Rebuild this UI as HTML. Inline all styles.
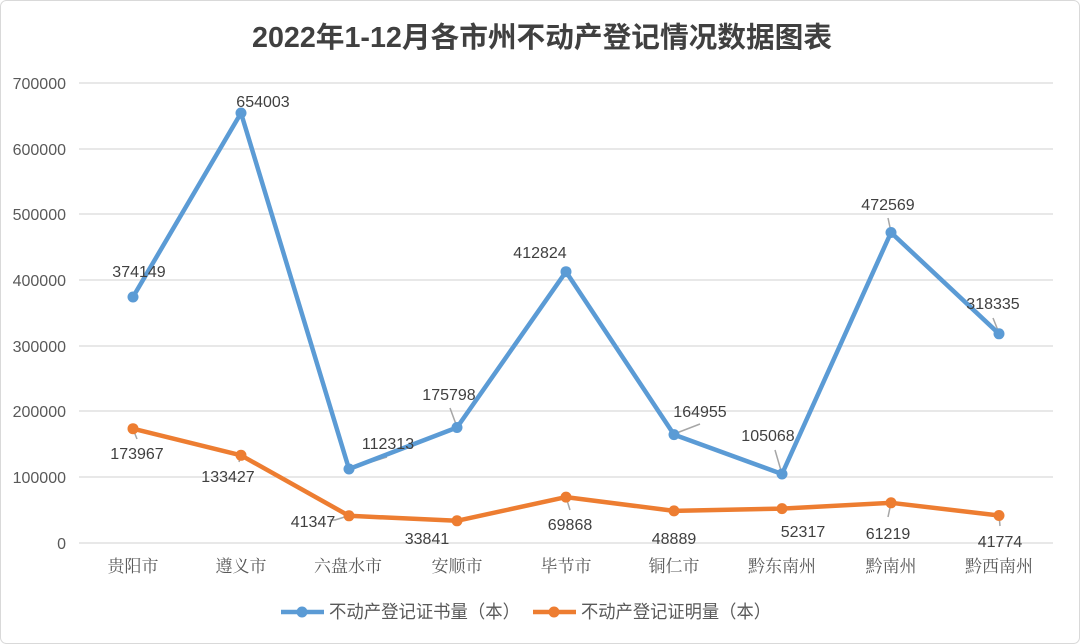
<!DOCTYPE html>
<html><head><meta charset="utf-8"><style>
html,body{margin:0;padding:0;background:#fff;}
svg{display:block;font-family:"Liberation Sans","Noto Sans CJK SC",sans-serif;}
</style></head><body>
<svg width="1080" height="644" viewBox="0 0 1080 644">
<rect x="0.5" y="0.5" width="1079" height="643" rx="6" fill="#fff" stroke="#d9d9d9"/>
<text x="542" y="47" text-anchor="middle" font-size="28.5" font-weight="bold" fill="#404040" textLength="580" lengthAdjust="spacingAndGlyphs">2022年1-12月各市州不动产登记情况数据图表</text>
<g stroke="#d9d9d9" stroke-width="1.3">
<line x1="79" x2="1053" y1="83" y2="83"/><line x1="79" x2="1053" y1="149" y2="149"/>
<line x1="79" x2="1053" y1="214" y2="214"/><line x1="79" x2="1053" y1="280" y2="280"/>
<line x1="79" x2="1053" y1="346" y2="346"/><line x1="79" x2="1053" y1="411" y2="411"/>
<line x1="79" x2="1053" y1="477" y2="477"/><line x1="79" x2="1053" y1="543" y2="543"/>
</g>
<g font-size="16" fill="#595959" text-anchor="end">
<text x="66" y="89">700000</text><text x="66" y="155">600000</text><text x="66" y="220">500000</text>
<text x="66" y="286">400000</text><text x="66" y="352">300000</text><text x="66" y="417">200000</text>
<text x="66" y="483">100000</text><text x="66" y="549">0</text>
</g>
<g font-size="17" fill="#595959" text-anchor="middle" font-family="'Noto Serif CJK SC',serif">
<text x="133" y="572">贵阳市</text><text x="241" y="572">遵义市</text><text x="348" y="572">六盘水市</text>
<text x="457" y="572">安顺市</text><text x="566" y="572">毕节市</text><text x="674" y="572">铜仁市</text>
<text x="782" y="572">黔东南州</text><text x="891" y="572">黔南州</text><text x="999" y="572">黔西南州</text>
</g>
<g stroke="#a6a6a6" stroke-width="1.5" fill="none">
<path d="M349 469 L387 457"/><path d="M457 427 L450 408"/><path d="M674 434 L700 424"/>
<path d="M782 474 L775 450"/><path d="M891 232 L888 218"/><path d="M999 333 L993 318"/>
<path d="M133 429 L137 439"/><path d="M348 516 L335 520 L330 520"/><path d="M566 497 L570 510"/>
<path d="M891 503 L888 517"/><path d="M999 515 L1000 526"/><path d="M241 455 L239 462"/>
</g>
<polyline fill="none" stroke="#5b9bd5" stroke-width="4.5" stroke-linejoin="round" points="133,297 241,113 349,469 457,427.5 566,271.7 674,434.6 782,474 891,232.5 999,333.8"/>
<polyline fill="none" stroke="#ed7d31" stroke-width="4.5" stroke-linejoin="round" points="133,428.7 241,455.3 349,515.8 457,520.8 566,497.1 674,510.9 782,508.6 891,502.8 999,515.5"/>
<g fill="#5b9bd5">
<circle cx="133" cy="297" r="5.5"/><circle cx="241" cy="113" r="5.5"/><circle cx="349" cy="469" r="5.5"/>
<circle cx="457" cy="427.5" r="5.5"/><circle cx="566" cy="271.7" r="5.5"/><circle cx="674" cy="434.6" r="5.5"/>
<circle cx="782" cy="474" r="5.5"/><circle cx="891" cy="232.5" r="5.5"/><circle cx="999" cy="333.8" r="5.5"/>
</g>
<g fill="#ed7d31">
<circle cx="133" cy="428.7" r="5.5"/><circle cx="241" cy="455.3" r="5.5"/><circle cx="349" cy="515.8" r="5.5"/>
<circle cx="457" cy="520.8" r="5.5"/><circle cx="566" cy="497.1" r="5.5"/><circle cx="674" cy="510.9" r="5.5"/>
<circle cx="782" cy="508.6" r="5.5"/><circle cx="891" cy="502.8" r="5.5"/><circle cx="999" cy="515.5" r="5.5"/>
</g>
<g font-size="16" fill="#404040" text-anchor="middle">
<text x="139" y="277">374149</text><text x="263" y="107">654003</text><text x="388" y="449">112313</text>
<text x="449" y="400">175798</text><text x="540" y="258">412824</text><text x="700" y="417">164955</text>
<text x="768" y="441">105068</text><text x="888" y="210">472569</text><text x="993" y="309">318335</text>
<text x="137" y="459">173967</text><text x="228" y="482">133427</text><text x="313" y="527">41347</text>
<text x="427" y="544">33841</text><text x="570" y="530">69868</text><text x="674" y="544">48889</text>
<text x="803" y="537">52317</text><text x="888" y="539">61219</text><text x="1000" y="547">41774</text>
</g>
<line x1="281" y1="612" x2="324" y2="612" stroke="#5b9bd5" stroke-width="4.5"/>
<circle cx="302" cy="612" r="5.5" fill="#5b9bd5"/>
<text x="329" y="618" font-size="18" fill="#595959" textLength="191" lengthAdjust="spacingAndGlyphs">不动产登记证书量（本）</text>
<line x1="533" y1="612" x2="576" y2="612" stroke="#ed7d31" stroke-width="4.5"/>
<circle cx="554" cy="612" r="5.5" fill="#ed7d31"/>
<text x="581" y="618" font-size="18" fill="#595959" textLength="190" lengthAdjust="spacingAndGlyphs">不动产登记证明量（本）</text>
</svg>
</body></html>
